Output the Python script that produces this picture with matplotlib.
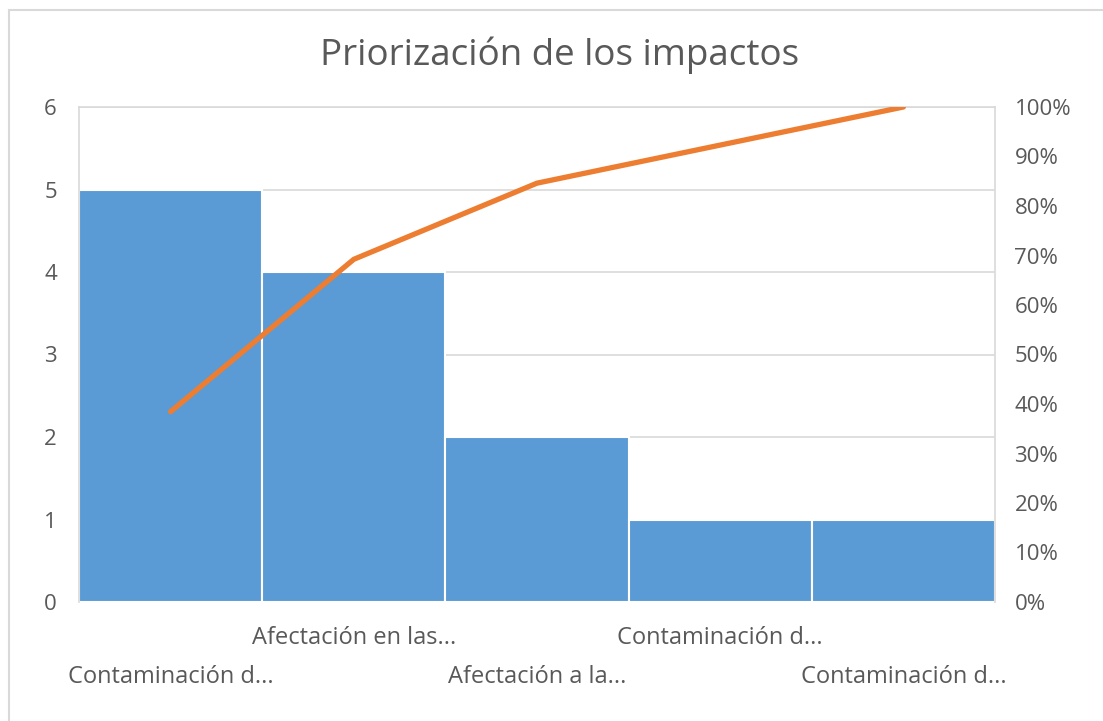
import matplotlib.pyplot as plt
from matplotlib.ticker import PercentFormatter
from matplotlib.patches import Rectangle

# data
categories = ["Contaminación d...", "Afectación en las...", "Afectación a la...",
              "Contaminación d...", "Contaminación d..."]
counts = [5, 4, 2, 1, 1]
title = "Priorización de los impactos"

total = sum(counts)
cumulative = []
running = 0
for c in counts:
    running += c
    cumulative.append(running / total)

plt.rcParams['font.family'] = ['Open Sans', 'DejaVu Sans']
text_color = '#595959'
grid_color = '#D9D9D9'

fig = plt.figure(figsize=(11.03, 7.21), dpi=100)
# outer chart border (only top/left visible in the crop)
fig.patches.append(Rectangle((9 / 1103, -0.1), 1.2, (721 - 10) / 721 + 0.1,
                             transform=fig.transFigure, fill=False,
                             edgecolor='#D9D9D9', linewidth=1.5))

ax = fig.add_axes([79 / 1103, (721 - 602) / 721, 916 / 1103, 495 / 721])
x = list(range(len(counts)))
ax.bar(x, counts, width=1.0, color='#5B9BD5', edgecolor='white', linewidth=1.5, zorder=2)
ax.set_xlim(-0.5, len(counts) - 0.5)
ax.set_ylim(0, 6)
ax.set_yticks(range(0, 7))
ax.yaxis.grid(True, color=grid_color, linewidth=1.2, zorder=0)
ax.set_axisbelow(True)
for side in ['top', 'left', 'right']:
    ax.spines[side].set_color(grid_color)
    ax.spines[side].set_linewidth(1.2)
ax.spines['bottom'].set_visible(False)
ax.tick_params(axis='y', length=0, labelsize=16, colors=text_color, pad=16)
ax.tick_params(axis='x', length=0)
ax.set_xticks(x)
ax.set_xticklabels([])

# staggered category labels (odd ones on the upper row)
for i, lab in enumerate(categories):
    y_pos = -0.073 if i % 2 == 1 else -0.152
    ax.text(i, y_pos, lab, ha='center', va='center', fontsize=17, color=text_color,
            transform=ax.get_xaxis_transform())

ax2 = ax.twinx()
ax2.plot(x, cumulative, color='#ED7D31', linewidth=3.8, solid_capstyle='round', zorder=3)
ax2.set_ylim(0, 1)
ax2.set_yticks([i / 10 for i in range(11)])
ax2.yaxis.set_major_formatter(PercentFormatter(1.0, decimals=0))
ax2.tick_params(axis='y', length=0, labelsize=16, colors=text_color, pad=14)
for side in ['top', 'left', 'right', 'bottom']:
    ax2.spines[side].set_visible(False)

fig.text(560 / 1103, 1 - 55 / 721, title, ha='center', va='center',
         fontsize=26.5, color=text_color)

fig.savefig('out.png', dpi=100)
